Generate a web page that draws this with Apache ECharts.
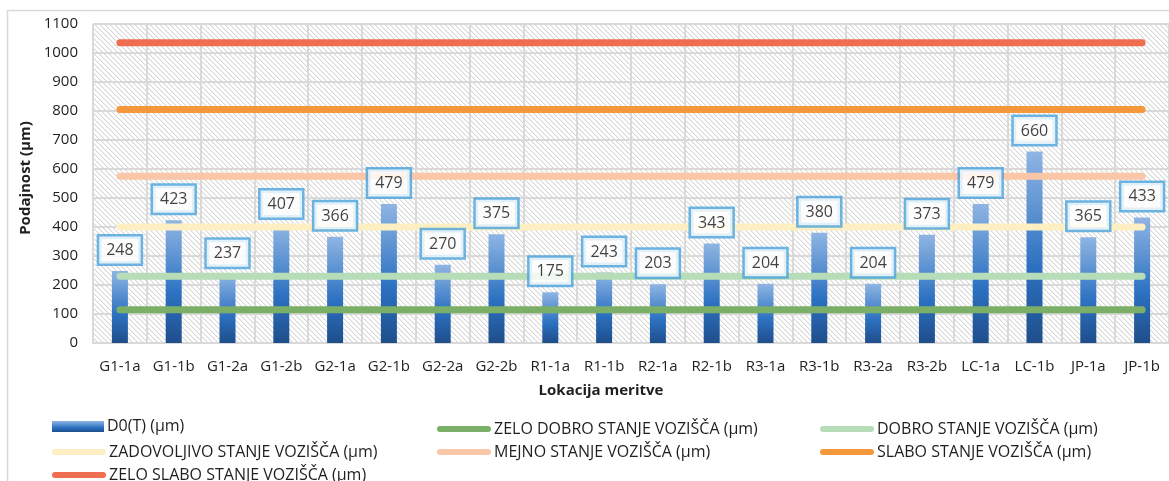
<!DOCTYPE html>
<html>
<head>
<meta charset="utf-8">
<script src="https://cdn.jsdelivr.net/npm/echarts@6/dist/echarts.min.js"></script>
<style>
  html, body { margin: 0; padding: 0; background: #fff; }
  #chart { width: 1169px; height: 481px; }
</style>
</head>
<body>
<div id="chart"></div>
<script>
// Measurement locations
const locations = ['G1-1a', 'G1-1b', 'G1-2a', 'G1-2b', 'G2-1a', 'G2-1b', 'G2-2a', 'G2-2b',
  'R1-1a', 'R1-1b', 'R2-1a', 'R2-1b', 'R3-1a', 'R3-1b', 'R3-2a', 'R3-2b',
  'LC-1a', 'LC-1b', 'JP-1a', 'JP-1b'];

// Measured deflection D0(T) in µm
const deflection = [248, 423, 237, 407, 366, 479, 270, 375, 175, 243,
  203, 343, 204, 380, 204, 373, 479, 660, 365, 433];

// Pavement condition thresholds (µm)
const thresholdNames = [
  'ZELO DOBRO STANJE VOZIŠČA (µm)',
  'DOBRO STANJE VOZIŠČA (µm)',
  'ZADOVOLJIVO STANJE VOZIŠČA (µm)',
  'MEJNO STANJE VOZIŠČA (µm)',
  'SLABO STANJE VOZIŠČA (µm)',
  'ZELO SLABO STANJE VOZIŠČA (µm)'
];
const thresholdValues = [115, 230, 400, 575, 805, 1035];
const thresholdColors = ['#7BAF68', '#B7DDB8', '#FEEFC3', '#F9C6A7', '#F5983C', '#EE6E4F'];

const barName = 'D0(T) (µm)';
const yTicks = { min: 0, max: 1100, step: 100 };

// Diagonal hatch used as the plot background
function hatchPattern() {
  const c = document.createElement('canvas');
  c.width = 5; c.height = 5;
  const ctx = c.getContext('2d');
  ctx.fillStyle = '#fff';
  ctx.fillRect(0, 0, 5, 5);
  for (let i = 0; i < 5; i++) {
    ctx.fillStyle = '#d8d8d8';
    ctx.fillRect(i, i, 1, 1);
    ctx.fillStyle = '#eeeeee';
    ctx.fillRect((i + 1) % 5, i, 1, 1);
  }
  return c;
}

const barGradient = new echarts.graphic.LinearGradient(0, 0, 0, 1, [
  { offset: 0, color: '#8FB5E3' },
  { offset: 0.6, color: '#2C71C1' },
  { offset: 1, color: '#1F4E8B' }
]);

const font = '"Open Sans", "Noto Sans", sans-serif';
const textColor = '#1f1f1f';
const capsule = 'path://M3,0 L51,0 A3,3 0 0 1 51,6 L3,6 A3,3 0 0 1 3,0 Z';

const series = [{
  name: barName,
  type: 'bar',
  data: deflection,
  barWidth: 16,
  z: 2,
  itemStyle: { color: barGradient }
}];

thresholdNames.forEach((name, i) => {
  series.push({
    name: name,
    type: 'line',
    data: locations.map(() => thresholdValues[i]),
    symbol: 'none',
    z: 3,
    lineStyle: { color: thresholdColors[i], width: 7, cap: 'round' },
    itemStyle: { color: thresholdColors[i] }
  });
});

// Value labels above the bars
series.push({
  name: 'labels',
  type: 'scatter',
  data: deflection,
  symbolSize: 1,
  z: 5,
  silent: true,
  itemStyle: { color: 'rgba(0,0,0,0)' },
  label: {
    show: true,
    position: 'top',
    distance: 7,
    fontFamily: font,
    fontSize: 16,
    color: '#111',
    backgroundColor: '#fff',
    borderColor: '#4AA3DC',
    borderWidth: 2.5,
    padding: [4, 7, 3, 7],
    lineHeight: 20
  }
});

// Legend entries: [name, icon-left, row-center, isBar]
const legendLayout = [
  [barName, 52, 424, true],
  [thresholdNames[0], 437, 424, false],
  [thresholdNames[1], 820, 424, false],
  [thresholdNames[2], 52, 447, false],
  [thresholdNames[3], 437, 447, false],
  [thresholdNames[4], 820, 447, false],
  [thresholdNames[5], 52, 470, false]
];

const legends = legendLayout.map(([name, x, cy, isBar]) => {
  const h = isBar ? 11 : 6;
  return {
    left: x,
    top: cy - h / 2,
    padding: 0,
    itemWidth: isBar ? 52 : 54,
    itemHeight: h,
    itemGap: 0,
    selectedMode: false,
    data: [isBar ? { name: name, icon: 'rect' } : { name: name, icon: capsule }],
    textStyle: { fontFamily: font, fontSize: 16, color: textColor, padding: [0, 0, 0, -2] }
  };
});

const chart = echarts.init(document.getElementById('chart'), null, { renderer: 'canvas' });
chart.setOption({
  animation: false,
  backgroundColor: '#fff',
  grid: {
    left: 93, top: 24, width: 1080, height: 319,
    show: true,
    backgroundColor: { image: hatchPattern(), repeat: 'repeat' },
    borderWidth: 0
  },
  legend: legends,
  xAxis: {
    type: 'category',
    data: locations,
    axisTick: { show: false },
    axisLine: { lineStyle: { color: '#d9d9d9', width: 2 } },
    axisLabel: { interval: 0, fontFamily: font, fontSize: 15, color: textColor, margin: 16 },
    splitLine: { show: true, interval: 0, lineStyle: { color: '#d9d9d9', width: 2 } }
  },
  yAxis: {
    type: 'value',
    min: yTicks.min, max: yTicks.max, interval: yTicks.step,
    axisLine: { show: false },
    axisTick: { show: false },
    axisLabel: {
      fontFamily: font, fontSize: 15, color: textColor, margin: 15,
      formatter: (v) => String(v)
    },
    splitLine: { lineStyle: { color: '#d9d9d9', width: 2 } }
  },
  graphic: [
    {
      type: 'rect', z: -10, silent: true,
      shape: { x: 7.5, y: 10.5, width: 1200, height: 500 },
      style: { fill: 'none', stroke: '#d9d9d9', lineWidth: 1.5 }
    },
    {
      type: 'text', silent: true,
      x: 26, y: 178, rotation: Math.PI / 2,
      style: {
        text: 'Podajnost (µm)', fontFamily: font, fontSize: 15, fontWeight: 'bold',
        fill: textColor, align: 'center', verticalAlign: 'middle'
      }
    },
    {
      type: 'text', silent: true,
      x: 601, y: 391,
      style: {
        text: 'Lokacija meritve', fontFamily: font, fontSize: 15, fontWeight: 'bold',
        fill: textColor, align: 'center', verticalAlign: 'middle'
      }
    }
  ],
  series: series
});
</script>
</body>
</html>
